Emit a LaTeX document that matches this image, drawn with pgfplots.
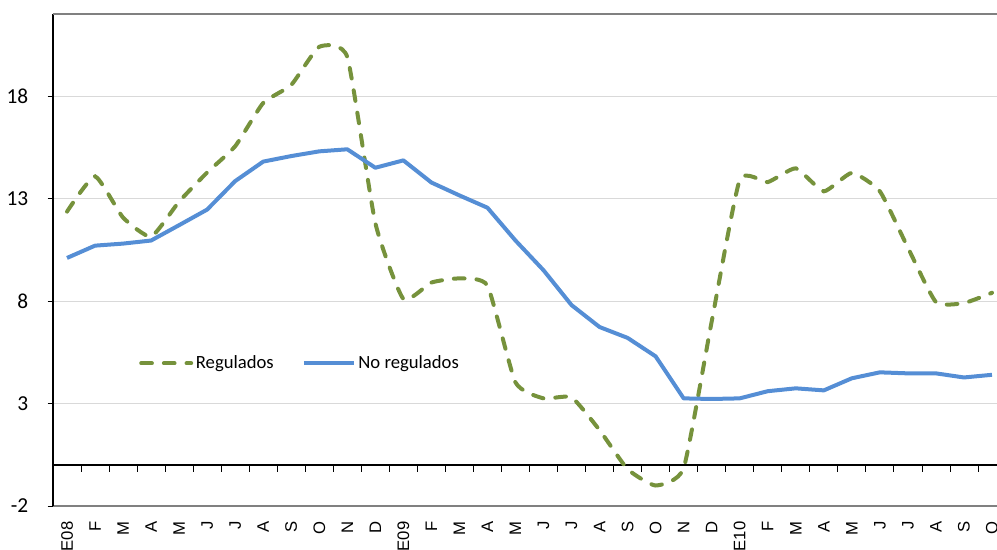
\documentclass[border=0pt]{standalone}
\usepackage{pgfplots}
\pgfplotsset{compat=1.18}
\usepackage{pgfplotstable}
\usepackage{fontspec}
\setmainfont{Carlito}
\newfontfamily\arialish{Liberation Sans}

\definecolor{regul}{RGB}{118,146,60}
\definecolor{noregul}{RGB}{85,142,213}
\definecolor{gridgray}{RGB}{217,217,217}

% mes, regulados, no regulados
\pgfplotstableread{
i reg noreg
0 12.36 10.10
1 14.08 10.70
2 12.07 10.80
3 11.14 10.95
4 12.85 11.70
5 14.27 12.46
6 15.55 13.85
7 17.66 14.80
8 18.54 15.07
9 20.40 15.30
10 19.90 15.40
11 11.80 14.50
12 8.10 14.86
13 8.90 13.78
14 9.10 13.15
15 8.75 12.55
16 4.03 10.95
17 3.25 9.50
18 3.30 7.80
19 1.70 6.73
20 -0.20 6.20
21 -1.00 5.30
22 -0.15 3.25
23 7.00 3.22
24 13.90 3.25
25 13.80 3.60
26 14.47 3.74
27 13.35 3.64
28 14.25 4.23
29 13.35 4.52
30 10.60 4.47
31 7.95 4.47
32 7.90 4.27
33 8.40 4.40
}\datos

\begin{document}
\begin{tikzpicture}
\path[use as bounding box] (-39.75pt,-33pt) rectangle (708pt,379.5pt);
\begin{axis}[
    at={(0,0)}, anchor=south west,
    scale only axis, width=714.75pt, height=369pt,
    xmin=-0.5, xmax=33.5, ymin=-2, ymax=22,
    axis lines*=left,
    axis line style={-},
    x axis line style={draw=gray, line width=0.9pt},
    y axis line style={draw=black, line width=0.8pt},
    xtick={0,...,33},
    xticklabels={E08,F,M,A,M,J,J,A,S,O,N,D,E09,F,M,A,M,J,J,A,S,O,N,D,E10,F,M,A,M,J,J,A,S,O},
    xtick style={draw=none},
    xticklabel style={rotate=90, anchor=east, font=\arialish\fontsize{12.5}{15}\selectfont, inner sep=7.5pt},
    ytick={-2,3,8,13,18},
    yticklabels={-2,3,8,13,18},
    yticklabel style={font=\fontsize{16}{18}\selectfont, xshift=-11pt},
    tick align=outside,
    ytick style={draw=black, line width=0.6pt},
    major tick length=4pt,
    ymajorgrids,
    grid style={gridgray, line width=0.6pt},
    legend style={at={(0.086,0.29)}, anchor=west, draw=none, fill=none,
        font=\fontsize{14}{16}\selectfont,
        /tikz/every even column/.append style={column sep=19pt}},
    legend columns=2,
    legend cell align=left,
    legend image code/.code={\draw[#1] (0pt,0pt) -- (37.5pt,0pt);},
]
\draw[gray, line width=0.9pt] (rel axis cs:0,1) -- (rel axis cs:1,1);
\draw[black, line width=0.8pt] (axis cs:-0.5,0) -- (axis cs:33.5,0);
\pgfplotsinvokeforeach{0,...,32}{
    \draw[black, line width=0.6pt] (axis cs:#1+0.5,0) -- ++(0pt,-5pt);
}
\addplot[regul, line width=3pt, line cap=round, dash pattern=on 8pt off 9pt,
    smooth, tension=0.3] table[x=i, y=reg] {\datos};
\addlegendentry{Regulados}
\addplot[noregul, line width=3pt, line join=round] table[x=i, y=noreg] {\datos};
\addlegendentry{No regulados}
\end{axis}
\end{tikzpicture}
\end{document}
